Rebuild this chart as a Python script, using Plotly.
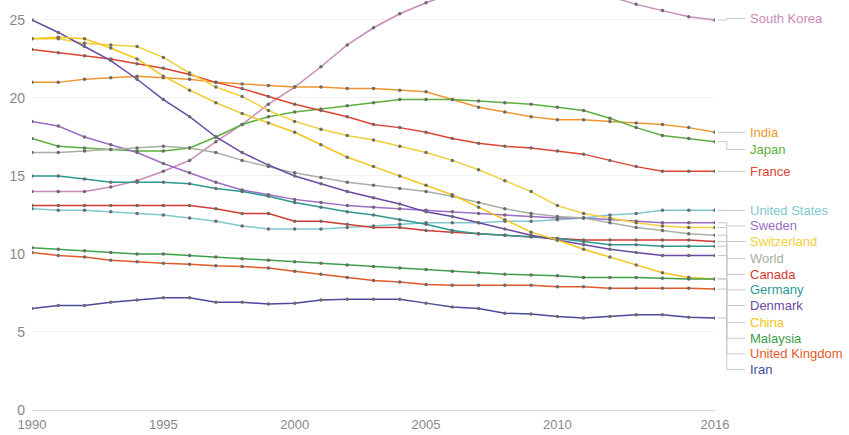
import plotly.graph_objects as go

years = list(range(1990, 2017))

south_korea = [14.0, 14.0, 14.0, 14.3, 14.7, 15.3, 16.0, 17.2, 18.3, 19.6, 20.7, 22.0, 23.4, 24.5, 25.4, 26.1,
               26.7, 27.1, 27.4, 27.5, 27.4, 27.0, 26.5, 26.0, 25.6, 25.2, 25.0]
india = [21.0, 21.0, 21.2, 21.3, 21.4, 21.3, 21.2, 21.0, 20.9, 20.8, 20.7, 20.7, 20.6, 20.6, 20.5, 20.4,
         19.9, 19.4, 19.1, 18.8, 18.6, 18.6, 18.5, 18.4, 18.3, 18.1, 17.8]
japan = [17.4, 16.9, 16.8, 16.7, 16.6, 16.6, 16.8, 17.5, 18.3, 18.8, 19.1, 19.3, 19.5, 19.7, 19.9, 19.9,
         19.9, 19.8, 19.7, 19.6, 19.4, 19.2, 18.7, 18.1, 17.6, 17.4, 17.2]
france = [23.1, 22.9, 22.7, 22.5, 22.2, 21.9, 21.5, 21.0, 20.6, 20.1, 19.6, 19.2, 18.8, 18.3, 18.1, 17.8,
          17.4, 17.1, 16.9, 16.8, 16.6, 16.4, 16.0, 15.6, 15.3, 15.3, 15.3]
united_states = [12.9, 12.8, 12.8, 12.7, 12.6, 12.5, 12.3, 12.1, 11.8, 11.6, 11.6, 11.6, 11.7, 11.8, 11.9, 12.0,
                 12.0, 12.0, 12.1, 12.1, 12.2, 12.3, 12.5, 12.6, 12.8, 12.8, 12.8]
sweden = [18.5, 18.2, 17.5, 17.0, 16.5, 15.8, 15.2, 14.6, 14.1, 13.8, 13.5, 13.3, 13.1, 13.0, 12.9, 12.8,
          12.7, 12.6, 12.5, 12.4, 12.3, 12.3, 12.2, 12.1, 12.0, 12.0, 12.0]
switzerland = [23.8, 23.8, 23.5, 23.4, 23.3, 22.6, 21.6, 20.7, 20.1, 19.2, 18.5, 18.0, 17.6, 17.3, 16.9, 16.5,
               16.0, 15.4, 14.7, 14.0, 13.1, 12.6, 12.3, 12.0, 11.8, 11.7, 11.7]
world = [16.5, 16.5, 16.6, 16.7, 16.8, 16.9, 16.8, 16.5, 16.0, 15.6, 15.2, 14.9, 14.6, 14.4, 14.2, 14.0,
         13.7, 13.3, 12.9, 12.6, 12.4, 12.3, 12.0, 11.7, 11.5, 11.3, 11.2]
canada = [13.1, 13.1, 13.1, 13.1, 13.1, 13.1, 13.1, 12.9, 12.6, 12.6, 12.1, 12.1, 11.9, 11.7, 11.7, 11.5,
          11.4, 11.3, 11.2, 11.1, 11.0, 10.9, 10.9, 10.9, 10.9, 10.9, 10.8]
germany = [15.0, 15.0, 14.8, 14.6, 14.6, 14.6, 14.5, 14.2, 14.0, 13.7, 13.3, 13.0, 12.7, 12.5, 12.2, 11.9,
           11.5, 11.3, 11.2, 11.1, 11.0, 10.8, 10.6, 10.6, 10.5, 10.5, 10.5]
denmark = [25.0, 24.2, 23.3, 22.4, 21.2, 19.9, 18.8, 17.5, 16.5, 15.7, 15.0, 14.5, 14.0, 13.6, 13.2, 12.7,
           12.4, 12.0, 11.6, 11.2, 10.9, 10.6, 10.3, 10.1, 9.9, 9.9, 9.9]
china = [23.8, 23.9, 23.8, 23.2, 22.5, 21.4, 20.5, 19.7, 19.0, 18.4, 17.8, 17.0, 16.2, 15.6, 15.0, 14.4,
         13.8, 13.0, 12.2, 11.4, 10.9, 10.3, 9.8, 9.3, 8.8, 8.5, 8.4]
malaysia = [10.4, 10.3, 10.2, 10.1, 10.0, 10.0, 9.9, 9.8, 9.7, 9.6, 9.5, 9.4, 9.3, 9.2, 9.1, 9.0,
            8.9, 8.8, 8.7, 8.65, 8.6, 8.5, 8.5, 8.5, 8.45, 8.4, 8.4]
united_kingdom = [10.1, 9.9, 9.8, 9.6, 9.5, 9.4, 9.35, 9.25, 9.2, 9.1, 8.9, 8.7, 8.5, 8.3, 8.2, 8.05,
                  8.0, 8.0, 8.0, 8.0, 7.9, 7.9, 7.8, 7.8, 7.8, 7.8, 7.75]
iran = [6.5, 6.7, 6.7, 6.9, 7.05, 7.2, 7.2, 6.9, 6.9, 6.8, 6.85, 7.05, 7.1, 7.1, 7.1, 6.85,
        6.6, 6.5, 6.2, 6.15, 6.0, 5.9, 6.0, 6.1, 6.1, 5.95, 5.9]

names = ["South Korea", "India", "Japan", "France", "United States", "Sweden", "Switzerland", "World",
         "Canada", "Germany", "Denmark", "China", "Malaysia", "United Kingdom", "Iran"]
series = [south_korea, india, japan, france, united_states, sweden, switzerland, world,
          canada, germany, denmark, china, malaysia, united_kingdom, iran]
colors = ["#c98ab8", "#f0962e", "#5cb03c", "#e0452f", "#7ec8cf", "#9d6cc9", "#f2d03a", "#a9b0a2",
          "#d23a32", "#2a9a94", "#6a48a8", "#f5c518", "#3ea04a", "#e35a28", "#4a4aa0"]
# label vertical positions (in axis units) for the right-hand labels
label_pos = [25.1, 17.8, 16.7, 15.3, 12.8, 11.8, 10.8, 9.7, 8.7, 7.7, 6.7, 5.6, 4.6, 3.6, 2.6]

X0, X1 = 1990, 2016
fig = go.Figure()
for name, vals, col in zip(names, series, colors):
    fig.add_trace(go.Scatter(
        x=years, y=vals, mode="lines+markers", name=name,
        line=dict(color=col, width=1.5),
        marker=dict(color="#6b6b6b", size=3.5),
        cliponaxis=True, showlegend=False,
    ))


def px(year):
    return (year - X0) / (X1 - X0)


shapes = []
annotations = []
x_end = years[-1]
for name, vals, col, ly in zip(names, series, colors, label_pos):
    yv = vals[-1]
    shapes.append(dict(
        type="path", xref="paper", yref="y",
        path=(f"M {px(x_end + 0.1)},{yv} L {px(x_end + 0.45)},{yv} "
              f"L {px(x_end + 0.45)},{ly} L {px(x_end + 1.15)},{ly}"),
        line=dict(color="#c8c8c8", width=1),
    ))
    annotations.append(dict(
        x=px(x_end + 1.25), y=ly, xref="paper", yref="y", text=name, showarrow=False,
        xanchor="left", yanchor="middle",
        font=dict(family="Liberation Sans, Arial, sans-serif", size=13, color=col),
    ))

fig.update_layout(
    width=849, height=435,
    margin=dict(l=32, r=134, t=0, b=25, autoexpand=False),
    paper_bgcolor="white", plot_bgcolor="white",
    shapes=shapes, annotations=annotations,
    font=dict(family="Liberation Sans, Arial, sans-serif", size=13, color="#888888"),
)
fig.update_xaxes(
    range=[X0, X1], tickvals=[1990, 1995, 2000, 2005, 2010, 2016],
    showgrid=False, zeroline=False, showline=False, ticks="",
    tickfont=dict(size=13, color="#888888"), automargin=False, ticklabelstandoff=5,
)
fig.update_yaxes(
    range=[0, 26.28], tickvals=[0, 5, 10, 15, 20, 25],
    showgrid=True, gridcolor="#f3f3f3", gridwidth=1,
    zeroline=True, zerolinecolor="#dddddd", zerolinewidth=1,
    showline=False, ticks="", ticklabelstandoff=6,
    tickfont=dict(size=14, color="#888888"), automargin=False,
)

fig.write_html("out.html", config={"displayModeBar": False},
               post_script="document.body.style.margin='0px';")
